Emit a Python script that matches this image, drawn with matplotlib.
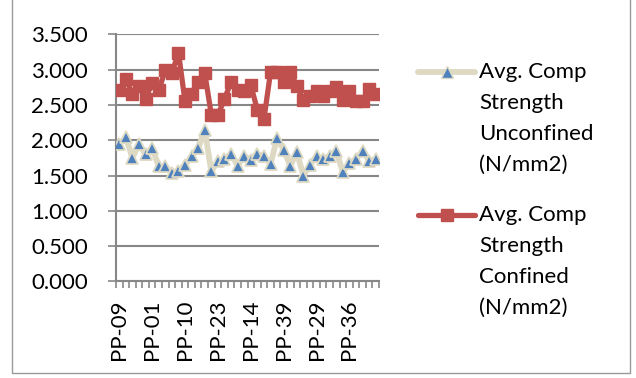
import matplotlib
matplotlib.use("Agg")
import matplotlib.pyplot as plt
from matplotlib.lines import Line2D

# Average compressive strength per specimen (N/mm2)
unconfined = [1.94, 2.04, 1.75, 1.94, 1.80, 1.89, 1.63, 1.63, 1.54, 1.57,
              1.65, 1.77, 1.89, 2.14, 1.56, 1.70, 1.73, 1.81, 1.64, 1.78,
              1.72, 1.81, 1.77, 1.66, 2.03, 1.86, 1.64, 1.83, 1.50, 1.65,
              1.78, 1.73, 1.78, 1.85, 1.55, 1.68, 1.73, 1.85, 1.71, 1.73]
confined = [2.71, 2.86, 2.66, 2.77, 2.59, 2.81, 2.71, 2.99, 2.95, 3.24,
            2.55, 2.66, 2.83, 2.95, 2.36, 2.36, 2.58, 2.83, 2.71, 2.70,
            2.78, 2.43, 2.30, 2.96, 2.96, 2.83, 2.96, 2.77, 2.57, 2.63,
            2.70, 2.63, 2.70, 2.76, 2.57, 2.70, 2.55, 2.55, 2.72, 2.65]
tick_labels = ["PP-09", "PP-01", "PP-10", "PP-23", "PP-14", "PP-39", "PP-29", "PP-36"]
y_ticks = [0.0, 0.5, 1.0, 1.5, 2.0, 2.5, 3.0, 3.5]
label_unconfined = "Avg. Comp\nStrength\nUnconfined\n(N/mm2)"
label_confined = "Avg. Comp\nStrength\nConfined\n(N/mm2)"

W, H = 636, 378
FONT = "Lato"
FS = 16
GRID = "#878787"
BEIGE = "#DDD9C3"
BLUE = "#4F81BD"
RED = "#C0504D"

fig = plt.figure(figsize=(W / 100, H / 100), dpi=100)
fig.patch.set_facecolor("white")

# chart area border (left, bottom, right edges)
def fig_line(xs, ys, **kw):
    fig.add_artist(Line2D([v / W for v in xs], [1 - v / H for v in ys],
                          transform=fig.transFigure, **kw))

fig_line([12, 12, 630, 630], [0, 373, 373, 0], color="#9a9a9a", linewidth=1.0)

ax = fig.add_axes([116 / W, 1 - 281.4 / H, (379 - 116) / W, (281.4 - 34.3) / H])
n = len(confined)
x = list(range(n))

ax.plot(x, unconfined, color=BEIGE, linewidth=4.2, marker="^", markersize=8,
        markerfacecolor=BLUE, markeredgecolor=BEIGE, markeredgewidth=1.3,
        solid_joinstyle="round", zorder=3)
ax.plot(x, confined, color=RED, linewidth=3.8, marker="s", markersize=9,
        markerfacecolor=RED, markeredgecolor=RED, solid_joinstyle="round", zorder=4)

ax.set_xlim(-0.5, n - 0.5)
ax.set_ylim(0, 3.5)
ax.set_yticks(y_ticks)
ax.set_yticklabels([f"{v:.3f}" for v in y_ticks], fontsize=FS, family=FONT)
ax.yaxis.grid(True, color=GRID, linewidth=1.5)
ax.set_axisbelow(True)

# category boundary ticks, labels every fifth category
ax.set_xticks([i - 0.5 for i in range(n + 1)])
ax.set_xticklabels([])
ax.set_xticks(list(range(0, n, 5))[:len(tick_labels)], minor=True)
ax.set_xticklabels(tick_labels, minor=True, rotation=90, fontsize=FS, family=FONT,
                   va="top", ha="center")
ax.tick_params(axis="x", which="major", length=5, width=1.2, color=GRID, direction="out")
ax.tick_params(axis="x", which="minor", length=0, pad=13)
ax.tick_params(axis="y", length=6, width=1.2, color=GRID, pad=14)

for side in ("top", "right"):
    ax.spines[side].set_visible(False)
for side in ("left", "bottom"):
    ax.spines[side].set_color(GRID)
    ax.spines[side].set_linewidth(1.5)

# legend drawn at figure level
def legend_entry(y_px, color, lw, marker, ms, mfc, mec, text):
    yf = 1 - y_px / H
    fig.add_artist(Line2D([418 / W, 475 / W], [yf, yf], transform=fig.transFigure,
                          color=color, linewidth=lw, solid_capstyle="round"))
    fig.add_artist(Line2D([446.5 / W], [yf], transform=fig.transFigure, marker=marker,
                          markersize=ms, markerfacecolor=mfc, markeredgecolor=mec,
                          linestyle="none"))
    fig.text(479 / W, 1 - (y_px - 10) / H, text, fontsize=FS, family=FONT,
             va="top", ha="left", linespacing=1.68)

legend_entry(72, BEIGE, 4.2, "^", 8, BLUE, BEIGE, label_unconfined)
legend_entry(215, RED, 3.8, "s", 9, RED, RED, label_confined)

fig.savefig("out.png", dpi=100, facecolor="white")
